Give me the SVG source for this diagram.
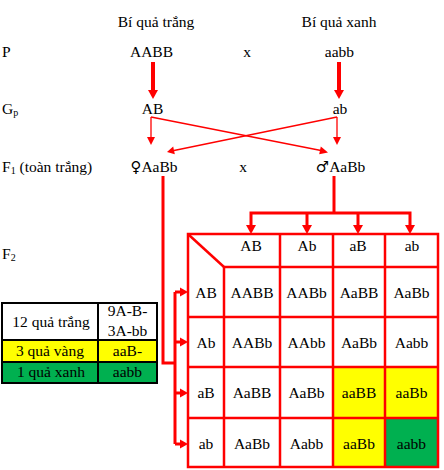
<svg xmlns="http://www.w3.org/2000/svg" width="444" height="470" viewBox="0 0 444 470">
<style>
text{font-family:"Liberation Serif","DejaVu Serif",serif;font-size:15.5px;fill:#000}
.c{text-anchor:middle}
.sub{font-size:10px}
.sym{font-family:"DejaVu Sans",sans-serif;font-size:15px}
.thin{stroke:#ff0000;stroke-width:1.3;fill:none}
.thick{stroke:#ff0000;stroke-width:3;fill:none}
.head{fill:#ff0000;stroke:none}
.grid{stroke:#ff0000;stroke-width:2.5;fill:none}
.bk{stroke:#000;stroke-width:2;fill:none}
</style>
<rect width="444" height="470" fill="#fff"/>

<g id="labels">
<text x="156" y="27" class="c">Bí quả trắng</text>
<text x="339" y="27" class="c">Bí quả xanh</text>
<text x="2" y="57">P</text>
<text x="2" y="114">G<tspan class="sub" dy="2">p</tspan></text>
<text x="2" y="172">F<tspan class="sub" dy="2">1</tspan><tspan dy="-2"> (toàn trắng)</tspan></text>
<text x="2" y="259">F<tspan class="sub" dy="2">2</tspan></text>
<text x="247" y="57" class="c">x</text>
<text x="243" y="172" class="c">x</text>
</g>

<g id="p-female"><text x="151.5" y="57" class="c">AABB</text></g>
<g id="p-male"><text x="339.5" y="57" class="c">aabb</text></g>
<g id="g-female"><text x="152.5" y="114" class="c">AB</text></g>
<g id="g-male"><text x="340" y="114" class="c">ab</text></g>
<g id="f1-female"><text x="154" y="172" class="c"><tspan class="sym">♀</tspan>AaBb</text></g>
<g id="f1-male"><text x="340.5" y="172" class="c"><tspan class="sym">♂</tspan>AaBb</text></g>

<g id="connectors">
<rect class="head" x="151" y="62" width="4" height="29"/>
<polygon class="head" points="148,90 158,90 153,99"/>
<rect class="head" x="337" y="62" width="4" height="29"/>
<polygon class="head" points="334,90 344,90 339,99"/>
<polyline class="thin" points="151,117 151,138"/>
<polygon class="head" points="147,137 155,137 151,145"/>
<polyline class="thin" points="337,117 337,138"/>
<polygon class="head" points="333,137 341,137 337,145"/>
<line class="thin" x1="151" y1="117" x2="321" y2="150.5"/>
<polygon class="head" points="328,152.5 319.2,154.3 320.8,146.5"/>
<line class="thin" x1="337" y1="117" x2="174" y2="150.5"/>
<polygon class="head" points="167,152 173.2,146.5 174.8,154.3"/>
<polyline class="thick" points="334,176 334,213"/>
<polyline class="thick" points="251,226 251,213 410,213 410,226"/>
<line class="thick" x1="307" y1="213" x2="307" y2="226"/>
<line class="thick" x1="358" y1="213" x2="358" y2="226"/>
<polygon class="head" points="246,225 256,225 251,234"/>
<polygon class="head" points="302,225 312,225 307,234"/>
<polygon class="head" points="353,225 363,225 358,234"/>
<polygon class="head" points="405,225 415,225 410,234"/>
<polyline class="thick" points="163,176 163,363 175,363"/>
<line class="thick" x1="175" y1="292" x2="175" y2="444"/>
<line class="thick" x1="175" y1="292" x2="181" y2="292"/>
<line class="thick" x1="175" y1="342" x2="181" y2="342"/>
<line class="thick" x1="175" y1="393" x2="181" y2="393"/>
<line class="thick" x1="175" y1="444" x2="181" y2="444"/>
<polygon class="head" points="180,287.5 180,296.5 188,292"/>
<polygon class="head" points="180,337.5 180,346.5 188,342"/>
<polygon class="head" points="180,388.5 180,397.5 188,393"/>
<polygon class="head" points="180,439.5 180,448.5 188,444"/>
</g>

<g id="punnett">
<rect x="333" y="367" width="52" height="51" fill="#ffff00"/>
<rect x="385" y="367" width="53" height="51" fill="#ffff00"/>
<rect x="333" y="418" width="52" height="49" fill="#ffff00"/>
<rect x="385" y="418" width="53" height="49" fill="#00b050"/>
<rect class="grid" x="188" y="234" width="250" height="233"/>
<line class="grid" x1="224" y1="267" x2="224" y2="467"/>
<line class="grid" x1="280" y1="234" x2="280" y2="467"/>
<line class="grid" x1="333" y1="234" x2="333" y2="467"/>
<line class="grid" x1="385" y1="234" x2="385" y2="467"/>
<line class="grid" x1="224" y1="267" x2="438" y2="267"/>
<line class="grid" x1="188" y1="317" x2="438" y2="317"/>
<line class="grid" x1="188" y1="367" x2="438" y2="367"/>
<line class="grid" x1="188" y1="418" x2="438" y2="418"/>
<line class="grid" x1="189" y1="235" x2="224" y2="267"/>
<text x="251" y="251" class="c">AB</text>
<text x="307" y="251" class="c">Ab</text>
<text x="358" y="251" class="c">aB</text>
<text x="412" y="251" class="c">ab</text>
<text x="206" y="298" class="c">AB</text>
<text x="252" y="298" class="c">AABB</text>
<text x="306.5" y="298" class="c">AABb</text>
<text x="359" y="298" class="c">AaBB</text>
<text x="411.5" y="298" class="c">AaBb</text>
<text x="206" y="348" class="c">Ab</text>
<text x="252" y="348" class="c">AABb</text>
<text x="306.5" y="348" class="c">AAbb</text>
<text x="359" y="348" class="c">AaBb</text>
<text x="411.5" y="348" class="c">Aabb</text>
<text x="206" y="398" class="c">aB</text>
<text x="252" y="398" class="c">AaBB</text>
<text x="306.5" y="398" class="c">AaBb</text>
<text x="359" y="398" class="c">aaBB</text>
<text x="411.5" y="398" class="c">aaBb</text>
<text x="206" y="449" class="c">ab</text>
<text x="252" y="449" class="c">AaBb</text>
<text x="306.5" y="449" class="c">Aabb</text>
<text x="359" y="449" class="c">aaBb</text>
<text x="411.5" y="449" class="c">aabb</text>
</g>

<g id="ratio-table">
<rect x="2" y="340" width="155" height="22" fill="#ffff00"/>
<rect x="2" y="362" width="155" height="21" fill="#00b050"/>
<rect class="bk" x="2" y="303" width="155" height="80"/>
<line class="bk" x1="98" y1="303" x2="98" y2="383"/>
<line class="bk" x1="2" y1="340" x2="157" y2="340"/>
<line class="bk" x1="2" y1="362" x2="157" y2="362"/>
<text x="51" y="327" class="c">12 quả trắng</text>
<text x="127.5" y="316" class="c">9A-B-</text>
<text x="127.5" y="336" class="c">3A-bb</text>
<text x="50" y="356" class="c">3 quả vàng</text>
<text x="127.5" y="356" class="c">aaB-</text>
<text x="51" y="377" class="c">1 quả xanh</text>
<text x="127.5" y="377" class="c">aabb</text>
</g>
</svg>
